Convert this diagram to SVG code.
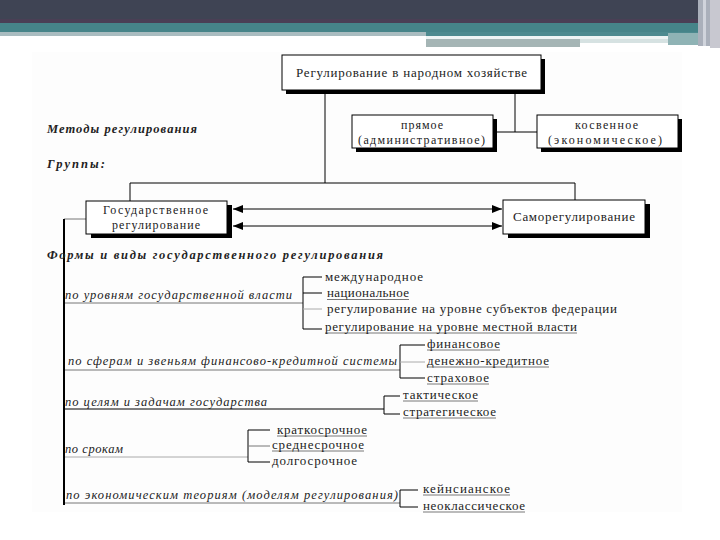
<svg xmlns="http://www.w3.org/2000/svg" width="720" height="540" viewBox="0 0 720 540" font-family="'Liberation Serif', 'Times New Roman', serif">
<defs>
<style>
text{font-size:13px;fill:#222}
.s{font-size:12px}
.h{font-weight:bold;font-style:italic;font-size:12.5px}
.c{font-style:italic;font-size:12.5px}
.box{fill:#fff;stroke:#000;stroke-width:1}
.sh{fill:#000}
.ln{stroke:#000;stroke-width:1;fill:none}
.lg{stroke:#777;stroke-width:1;fill:none}
.ll{stroke:#aaa;stroke-width:1;fill:none}
.ul{stroke:#555;stroke-width:0.8;fill:none}
</style>
<marker id="ar" viewBox="0 0 10 8" refX="10" refY="4" markerWidth="10" markerHeight="8" markerUnits="userSpaceOnUse" orient="auto-start-reverse">
<path d="M0,0 L10,4 L0,8 Z" fill="#000"/>
</marker>
</defs>
<rect width="720" height="540" fill="#fff"/>
<g id="header">
<rect x="0" y="0" width="720" height="22" fill="#3f4454"/>
<rect x="0" y="19" width="720" height="4" fill="#4a3f55"/>
<rect x="0" y="23" width="710" height="10" fill="#468489"/>
<rect x="0" y="32" width="426" height="4" fill="#a9bcc0"/>
<rect x="426" y="32" width="284" height="4" fill="#4d8a8f"/>
<rect x="426" y="36" width="242" height="3" fill="#eef4f4"/>
<rect x="426" y="39" width="154" height="8" fill="#a5b5b5"/>
<rect x="580" y="39" width="88" height="4" fill="#d6e2e2"/>
<rect x="668" y="33" width="30" height="12" fill="#8fb3b5"/>
<rect x="698" y="0" width="12" height="46" fill="#aab0bb"/>
<rect x="703" y="0" width="3" height="46" fill="#d0d4dc"/>
<rect x="710" y="0" width="10" height="48" fill="#c8c8d0"/>
</g>
<rect x="32" y="52" width="650" height="460" fill="#fdfdfd"/>

<g id="connectors">
<path class="ln" d="M325,94 V183"/>
<path class="ln" d="M515,94 V132 M497,132 H537"/>
<path class="ln" d="M130,201 V183 H575 V200"/>
<path class="ln" d="M233,209 H502" marker-start="url(#ar)" marker-end="url(#ar)"/>
<path class="ln" d="M233,226 H502" marker-start="url(#ar)" marker-end="url(#ar)"/>
<path class="lg" d="M86,219 H64"/>
<path stroke="#000" stroke-width="2" fill="none" d="M64,219 V505"/>
<path class="lg" d="M65,303 H303"/>
<path class="lg" d="M65,370 H400"/>
<path class="ln" d="M65,409 H384"/>
<path class="ll" d="M65,457 H248"/>
<path class="lg" d="M65,503 H400"/>
<path class="ln" d="M322,277 H303 V329 H322 M303,293 H322"/>
<path class="ll" d="M303,309 H322"/>
<path class="ln" d="M425,345 H400 V378 H425"/>
<path class="ll" d="M400,362 H425"/>
<path class="ln" d="M400,396 H384 V414 H400"/>
<path class="ln" d="M270,430 H248 V462 H270"/>
<path class="lg" d="M248,446 H270"/>
<path class="ln" d="M418,490 H400 V507 H418"/>
</g>

<g id="node-top">
<rect class="sh" x="286" y="59" width="259" height="35"/>
<rect class="box" x="282" y="55" width="259" height="35"/>
<text x="296" y="77" textLength="231" lengthAdjust="spacing">Регулирование в народном хозяйстве</text>
</g>
<g id="node-direct">
<rect class="sh" x="356" y="119" width="141" height="33"/>
<rect class="box" x="352" y="115" width="141" height="33"/>
<text class="s" x="401" y="129" textLength="42" lengthAdjust="spacing">прямое</text>
<text class="s" x="358" y="144" textLength="127" lengthAdjust="spacing">(административное)</text>
</g>
<g id="node-indirect">
<rect class="sh" x="541" y="119" width="141" height="33"/>
<rect class="box" x="537" y="115" width="141" height="33"/>
<text class="s" x="575" y="129" textLength="63" lengthAdjust="spacing">косвенное</text>
<text class="s" x="548" y="144" textLength="114" lengthAdjust="spacing">(экономическое)</text>
</g>
<g id="node-state">
<rect class="sh" x="91" y="205" width="141" height="33"/>
<rect class="box" x="86" y="201" width="141" height="33"/>
<text class="s" x="103" y="214" textLength="105" lengthAdjust="spacing">Государственное</text>
<text class="s" x="112" y="228.5" textLength="88" lengthAdjust="spacing">регулирование</text>
</g>
<g id="node-self">
<rect class="sh" x="508" y="204" width="142" height="34"/>
<rect class="box" x="503" y="200" width="142" height="34"/>
<text x="513" y="221" textLength="122" lengthAdjust="spacing">Саморегулирование</text>
</g>

<g id="labels">
<text class="h" x="47" y="133" textLength="150" lengthAdjust="spacing">Методы регулирования</text>
<text class="h" x="47" y="168" textLength="58" lengthAdjust="spacing">Группы:</text>
<text class="h" x="47" y="259" textLength="336" lengthAdjust="spacing">Формы и виды государственного регулирования</text>
</g>

<g id="underlines">
<path class="ul" d="M327,299.5 H409 M325,333 H577 M427,350 H500 M427,367 H549 M427,384 H489 M403,401 H478 M403,418 H496 M277,436 H367 M272,451 H364 M423,495 H510 M423,512 H525"/>
</g>

<g id="cat-levels">
<text class="c" x="65" y="299" textLength="227" lengthAdjust="spacing">по уровням государственной власти</text>
<text x="325" y="281" textLength="98" lengthAdjust="spacing">международное</text>
<text x="327" y="297" textLength="82" lengthAdjust="spacing">национальное</text>
<text x="327" y="313" textLength="290" lengthAdjust="spacing">регулирование на уровне субъектов федерации</text>
<text x="325" y="331" textLength="252" lengthAdjust="spacing">регулирование на уровне местной власти</text>
</g>
<g id="cat-finance">
<text class="c" x="68" y="365" textLength="329" lengthAdjust="spacing">по сферам и звеньям финансово-кредитной системы</text>
<text x="427" y="348" textLength="73" lengthAdjust="spacing">финансовое</text>
<text x="427" y="365" textLength="122" lengthAdjust="spacing">денежно-кредитное</text>
<text x="427" y="382" textLength="62" lengthAdjust="spacing">страховое</text>
</g>
<g id="cat-goals">
<text class="c" x="65" y="406" textLength="202" lengthAdjust="spacing">по целям и задачам государства</text>
<text x="403" y="399" textLength="75" lengthAdjust="spacing">тактическое</text>
<text x="403" y="416" textLength="93" lengthAdjust="spacing">стратегическое</text>
</g>
<g id="cat-terms">
<text class="c" x="65" y="453" textLength="58" lengthAdjust="spacing">по срокам</text>
<text x="277" y="434" textLength="90" lengthAdjust="spacing">краткосрочное</text>
<text x="272" y="449" textLength="92" lengthAdjust="spacing">среднесрочное</text>
<text x="272" y="465" textLength="85" lengthAdjust="spacing">долгосрочное</text>
</g>
<g id="cat-theories">
<text class="c" x="66" y="499" textLength="332" lengthAdjust="spacing">по экономическим теориям (моделям регулирования)</text>
<text x="423" y="493" textLength="87" lengthAdjust="spacing">кейнсианское</text>
<text x="423" y="510" textLength="102" lengthAdjust="spacing">неоклассическое</text>
</g>
</svg>
